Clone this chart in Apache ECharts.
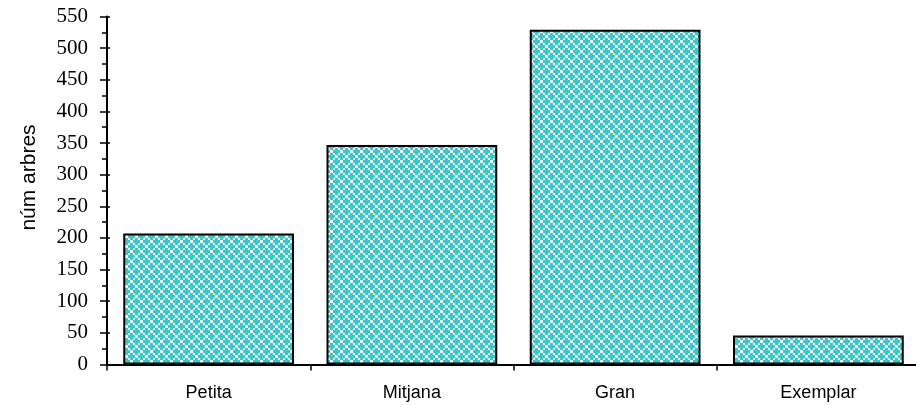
<!DOCTYPE html>
<html><head><meta charset="utf-8">
<script src="https://cdn.jsdelivr.net/npm/echarts@6/dist/echarts.min.js"></script>
<style>html,body{margin:0;padding:0;background:#fff;overflow:hidden}#c{width:920px;height:406px}</style>
</head><body><div id="c"></div>
<script>
var categories = ['Petita', 'Mitjana', 'Gran', 'Exemplar'];
var values = [207, 347, 529, 46];
var yAxisName = 'núm arbres';

function makePattern() {
  var c = document.createElement('canvas');
  c.width = 10; c.height = 10;
  var g = c.getContext('2d');
  g.fillStyle = '#33CCCC';
  g.fillRect(0, 0, 10, 10);
  g.fillStyle = '#ffffff';
  var pos = [0, 3, 5, 8], size = [3, 2, 3, 2];
  for (var i = 0; i < 4; i++) {
    for (var j = 0; j < 4; j++) {
      if ((i + j) % 2 === 0) {
        if (i % 2 === 0 && j % 2 === 0 && ((i / 2 + j / 2) % 2 === 1)) continue;
        g.fillRect(pos[i], pos[j], size[i], size[j]);
      }
    }
  }
  return c;
}

var chart = echarts.init(document.getElementById('c'), null, {renderer: 'canvas'});
chart.setOption({
  animation: false,
  grid: {left: 107, right: 0, top: 16.5, bottom: 41.5},
  xAxis: {
    type: 'category',
    data: categories,
    axisLine: {lineStyle: {color: '#000', width: 2}},
    axisTick: {show: true, length: 6, lineStyle: {color: '#000', width: 1.5}},
    axisLabel: {color: '#000', fontFamily: 'Liberation Sans', fontSize: 18, margin: 20}
  },
  yAxis: [{
    type: 'value',
    min: 0, max: 550, interval: 50,
    name: yAxisName,
    nameLocation: 'middle',
    nameGap: 67,
    nameTextStyle: {color: '#000', fontFamily: 'Liberation Sans', fontSize: 21, padding: [0, 0, 0, 26]},
    axisLine: {show: true, lineStyle: {color: '#000', width: 2}},
    axisTick: {show: true, length: 7, lineStyle: {color: '#000', width: 1.5}},
    minorTick: {show: true, splitNumber: 2, length: 5, lineStyle: {color: '#000', width: 1.5}},
    splitLine: {show: false},
    axisLabel: {color: '#000', fontFamily: 'Liberation Serif', fontSize: 21, margin: 19}
  }, {
    type: 'value',
    position: 'left',
    min: 0, max: 550, interval: 50,
    axisLine: {show: false},
    axisTick: {show: true, inside: true, length: 3, lineStyle: {color: '#000', width: 1.5}},
    splitLine: {show: false},
    axisLabel: {show: false}
  }],
  series: [{
    type: 'bar',
    data: values,
    barCategoryGap: '16%',
    itemStyle: {
      color: {image: makePattern(), repeat: 'repeat'},
      borderColor: '#000',
      borderWidth: 2
    }
  }]
});
</script></body></html>
